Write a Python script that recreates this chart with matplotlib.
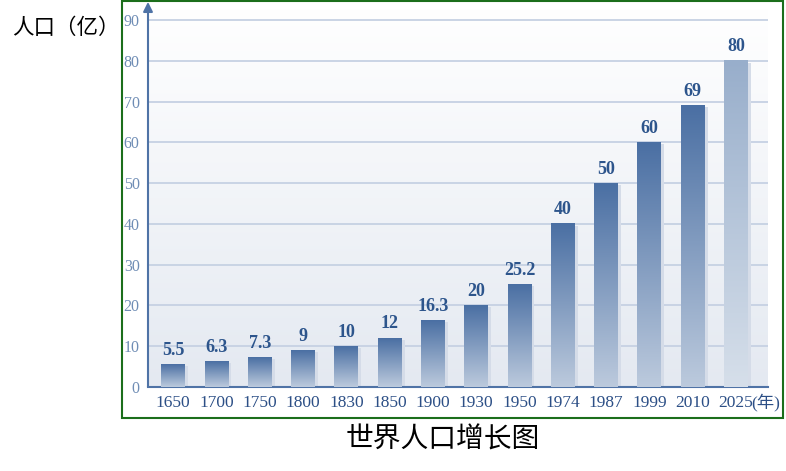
import numpy as np
import matplotlib.pyplot as plt
from matplotlib.colors import LinearSegmentedColormap
from matplotlib.patches import Rectangle

plt.rcParams['font.family'] = ['Liberation Serif', 'Noto Sans CJK SC', 'DejaVu Sans']

# data
years = ['1650', '1700', '1750', '1800', '1830', '1850', '1900', '1930',
         '1950', '1974', '1987', '1999', '2010', '2025']
population = [5.5, 6.3, 7.3, 9, 10, 12, 16.3, 20, 25.2, 40, 50, 60, 69, 80]
value_labels = ['5.5', '6.3', '7.3', '9', '10', '12', '16.3', '20', '25.2',
                '40', '50', '60', '69', '80']
yticks = [0, 10, 20, 30, 40, 50, 60, 70, 80, 90]

W, H = 786, 471
fig = plt.figure(figsize=(W / 100, H / 100), dpi=100)
ax = fig.add_axes([148 / W, 1 - 387 / H, 620 / W, (387 - 8) / H])

ymax = 93
x = np.arange(len(years))
xlim = (-0.58, 13.74)
bar_w = 0.55

# plot background, white at top to pale blue-grey at bottom
bg_cmap = LinearSegmentedColormap.from_list('bg', ['#e4e9f1', '#ffffff'])
grad = np.linspace(0, 1, 256).reshape(-1, 1)
ax.imshow(grad, extent=[xlim[0], xlim[1], 0, ymax], origin='lower',
          aspect='auto', cmap=bg_cmap, zorder=0)

for t in yticks[1:]:
    ax.axhline(t, color='#c6d1e3', lw=1.3, zorder=1)

dark = LinearSegmentedColormap.from_list('dark', ['#bccadd', '#4a6fa3'])
light = LinearSegmentedColormap.from_list('light', ['#d6dfea', '#98aecb'])

for i, v in enumerate(population):
    cm = light if i == len(population) - 1 else dark
    # soft shadow on the right
    ax.add_patch(Rectangle((x[i] - bar_w / 2 + 0.07, 0), bar_w, v - 0.4,
                           color='#d5dce8', lw=0, zorder=2))
    ax.imshow(grad, extent=[x[i] - bar_w / 2, x[i] + bar_w / 2, 0, v],
              origin='lower', aspect='auto', cmap=cm, zorder=3)
    ax.text(x[i], v + 1.4, value_labels[i], ha='center', va='bottom',
            fontsize=13, color='#2d558c', fontweight='bold', zorder=4)

ax.set_xlim(*xlim)
ax.set_ylim(0, ymax)

for s in ['top', 'right', 'left']:
    ax.spines[s].set_visible(False)
ax.spines['bottom'].set_color('#4f73a6')
ax.spines['bottom'].set_linewidth(1.5)

# y axis with arrow head
ax.annotate('', xy=(xlim[0], ymax + 1.5), xytext=(xlim[0], 0),
            arrowprops=dict(arrowstyle='-|>', color='#4f73a6', lw=1.5,
                            mutation_scale=14, shrinkA=0, shrinkB=0),
            annotation_clip=False, zorder=5)

ax.set_yticks(yticks)
ax.set_yticklabels([str(t) for t in yticks], color='#6f8db5', fontsize=11.5)
ax.set_xticks(x)
ax.set_xticklabels(years, color='#2c4f86', fontsize=12.5)
ax.tick_params(axis='both', length=0)
ax.tick_params(axis='y', pad=6)
ax.tick_params(axis='x', pad=6)

ax.text(13.36, -3.8, '(年)', ha='left', va='center', fontsize=12.5,
        color='#2c4f86', family=['Liberation Serif', 'Noto Sans CJK SC'],
        clip_on=False)

# green frame around the chart
fig.patches.append(Rectangle((122 / W, 1 - 418 / H), 661 / W, 417 / H,
                             transform=fig.transFigure, fill=False,
                             ec='#1b6e1b', lw=1.5))

fig.text(12 / W, 1 - 28 / H, '人口（亿）', ha='left', va='center', fontsize=15.5,
         family=['Noto Sans CJK SC'])
fig.text(443 / W, 1 - 440 / H, '世界人口增长图', ha='center', va='center',
         fontsize=20, family=['Noto Sans CJK SC'])

fig.savefig('out.png', dpi=100)
